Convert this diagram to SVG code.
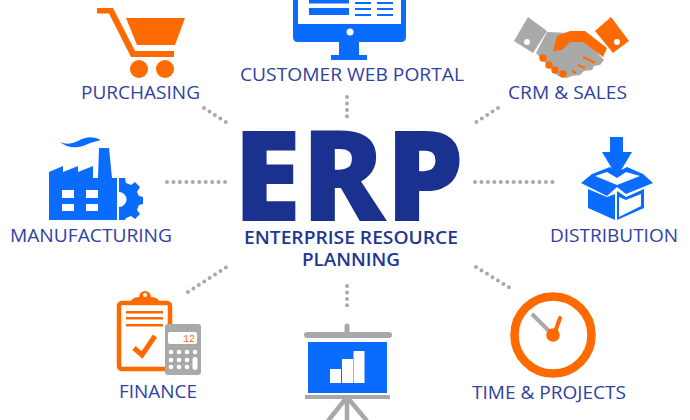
<svg xmlns="http://www.w3.org/2000/svg" width="690" height="420" viewBox="0 0 690 420">
<style>
.lb{font-family:"Open Sans","Liberation Sans",sans-serif;font-size:18.7px;fill:#2f429f}
.sub{font-family:"Open Sans","Liberation Sans",sans-serif;font-size:18px;font-weight:600;fill:#1f3794}
.o{fill:#ff6a00}.b{fill:#0a6cff}.g{fill:#a9a9a9}.w{fill:#fff}
.c{fill:none;stroke:#a9a9a9;stroke-width:4;stroke-linecap:round;stroke-dasharray:0 6.45}
</style>
<rect width="690" height="420" fill="#fff"/>
<g id="connectors">
<path class="c" d="M347 97V118"/>
<path class="c" d="M204 108L229 124"/>
<path class="c" d="M498 108L475 123"/>
<path class="c" d="M167 182H228"/>
<path class="c" d="M475 182H556"/>
<path class="c" d="M188 292L228 266"/>
<path class="c" d="M476 267L510 288"/>
<path class="c" d="M347 286V306"/>
</g>
<g id="erp">
<text font-family="Open Sans,Liberation Sans,sans-serif" font-weight="800" font-size="125" fill="#1a318f" x="233" y="221" textLength="231" lengthAdjust="spacingAndGlyphs">ERP</text>
<text class="sub" x="244" y="244" textLength="214" lengthAdjust="spacingAndGlyphs">ENTERPRISE RESOURCE</text>
<text class="sub" x="302" y="266" textLength="98" lengthAdjust="spacingAndGlyphs">PLANNING</text>
</g>
<g id="purchasing">
<path class="o" d="M97 8H113L135 51H174V57H131L109 13.500H97Z"/>
<path class="o" d="M126 18H185L175 45H137Z"/>
<circle class="o" cx="139" cy="69" r="9"/><circle class="o" cx="165" cy="69" r="9"/>
<text class="lb" x="81" y="99" textLength="119" lengthAdjust="spacingAndGlyphs">PURCHASING</text>
</g>
<g id="portal">
<path class="b" d="M293 0H406V37Q406 42 401 42H359V55H367V60H331V55H339V42H298Q293 42 293 37Z"/>
<rect class="w" x="298" y="0" width="103" height="24"/>
<circle class="w" cx="350" cy="32" r="3.500"/>
<g class="b"><rect x="309" y="0" width="40" height="3.500"/><rect x="309" y="8" width="40" height="7"/>
<rect x="355" y="2" width="16" height="2"/><rect x="355" y="8" width="16" height="2"/><rect x="355" y="14" width="16" height="2"/>
<rect x="377" y="2" width="16" height="2"/><rect x="377" y="8" width="16" height="2"/><rect x="377" y="14" width="16" height="2"/></g>
<text class="lb" x="240" y="81" textLength="224" lengthAdjust="spacingAndGlyphs">CUSTOMER WEB PORTAL</text>
</g>
<g id="crm">
<path class="g" d="M528 17L547 31L533 53L514 41Z"/><circle class="w" cx="527" cy="42" r="3"/>
<path class="o" d="M611 17L629 41L613 53L595 31Z"/><circle class="w" cx="617" cy="42" r="3"/>
<path class="g" d="M547 32L570 33L585 40L604 60L600 65L594 66L592 70L584 71L580 75L572 76L567 78L558 76L536 53Z"/>
<path class="o" d="M553 51L557 36L570 31L585 31L607 48L603 57L583 42L570 42L562 50Z"/>
<circle class="o" cx="543" cy="58" r="3.700"/><circle class="o" cx="549" cy="65" r="3.700"/><circle class="o" cx="555" cy="70" r="3.700"/><circle class="o" cx="563" cy="74" r="3.700"/>
<path d="M583 57L595 63M578 65L585 68M572 71L576 73" stroke="#ff6a00" stroke-width="2" fill="none"/>
<text class="lb" x="508" y="99" textLength="119" lengthAdjust="spacingAndGlyphs">CRM &amp; SALES</text>
</g>
<g id="manufacturing">
<path class="b" d="M60 142Q68 146 78 141Q90 134 101 140Q92 142 83 146Q70 150 60 142Z"/>
<path class="b" d="M49 172L63 166V172L78 166V172L93 166V178H98L99 148H109L112 178H117V220H49Z"/>
<g class="w"><rect x="62" y="190" width="12" height="8"/><rect x="86" y="190" width="12" height="8"/><rect x="62" y="204" width="12" height="7"/><rect x="86" y="204" width="12" height="7"/></g>
<path class="b" d="M119 178H125L126 183L131 185L135 182L140 187L137 192L139 196L143 197V204L139 205L137 210L140 214L135 219L131 216L126 218L125 220H119V207A7.500 7.500 0 0 0 119 192Z"/>
<text class="lb" x="10" y="242" textLength="162" lengthAdjust="spacingAndGlyphs">MANUFACTURING</text>
</g>
<g id="distribution">
<path class="b" d="M581 183L592 174L610 167L617 172L627 167L643 174L653 183L626 194L617 187L607 196Z"/>
<path class="w" d="M595 176L607 172L617 178L626 172L640 176L617 185Z"/>
<path class="b" d="M610 137H623V152H632L617 177L602 152H610Z"/>
<path class="b" d="M588 189L607 197L615 194V220L588 208Z"/>
<path class="b" fill-rule="evenodd" d="M617 191L626 197L644 189V208L617 220Z M619 197V217L641 206V194L626 200Z"/>
<text class="lb" x="550" y="242" textLength="128" lengthAdjust="spacingAndGlyphs">DISTRIBUTION</text>
</g>
<g id="finance">
<rect x="119" y="303" width="51" height="66" rx="3" fill="#fff" stroke="#ff6a00" stroke-width="4.500"/>
<path class="o" d="M131 301Q133 297 139 297A6 6 0 0 1 151 297Q157 297 159 301Z"/><circle class="w" cx="145" cy="295" r="2"/>
<g class="o"><rect x="126" y="311" width="37" height="2.500"/><rect x="126" y="317" width="37" height="2.500"/><rect x="126" y="324" width="37" height="2.500"/></g>
<path d="M134 348L142 355L155 336" fill="none" stroke="#ff6a00" stroke-width="5"/>
<rect class="g" x="165" y="324" width="36" height="51" rx="3"/>
<rect class="w" x="168" y="332" width="29" height="12" rx="2"/>
<text x="189" y="342" text-anchor="middle" font-family="Liberation Mono,monospace" font-size="10" fill="#ff6a00">12</text>
<g class="w"><circle cx="171" cy="352" r="2.300"/><circle cx="179" cy="352" r="2.300"/><circle cx="187" cy="352" r="2.300"/><circle cx="195" cy="352" r="2.300"/><circle cx="171" cy="360" r="2.300"/><circle cx="179" cy="360" r="2.300"/><circle cx="187" cy="360" r="2.300"/><circle cx="171" cy="367" r="2.300"/><circle cx="179" cy="367" r="2.300"/><circle cx="187" cy="367" r="2.300"/><rect x="192.500" y="357" width="5" height="13" rx="2.500"/></g>
<text class="lb" x="119" y="398" textLength="78" lengthAdjust="spacingAndGlyphs">FINANCE</text>
</g>
<g id="reports">
<path d="M347 326V334" stroke="#a9a9a9" stroke-width="5" stroke-linecap="round"/>
<rect class="g" x="304" y="332" width="88" height="6" rx="3"/>
<rect x="308" y="342" width="79" height="51" fill="#0a6cff"/>
<g class="w"><rect x="330" y="369" width="11" height="14"/><rect x="342" y="359" width="11" height="24"/><rect x="353.500" y="351" width="11" height="32"/></g>
<rect class="g" x="305" y="395" width="85" height="4"/>
<path d="M347 397L328 421M347 397V421M347 397L367 421" stroke="#a9a9a9" stroke-width="4.500" fill="none"/>
</g>
<g id="time">
<circle cx="553" cy="335" r="38.500" fill="#fff" stroke="#ff6a00" stroke-width="8.500"/>
<path d="M532 314L549 331" stroke="#a9a9a9" stroke-width="4"/>
<path d="M560 318L555 332" stroke="#ff6a00" stroke-width="4" stroke-linecap="round"/>
<circle class="o" cx="553" cy="335" r="6.800"/>
<text class="lb" x="472" y="399" textLength="154" lengthAdjust="spacingAndGlyphs">TIME &amp; PROJECTS</text>
</g>
</svg>
